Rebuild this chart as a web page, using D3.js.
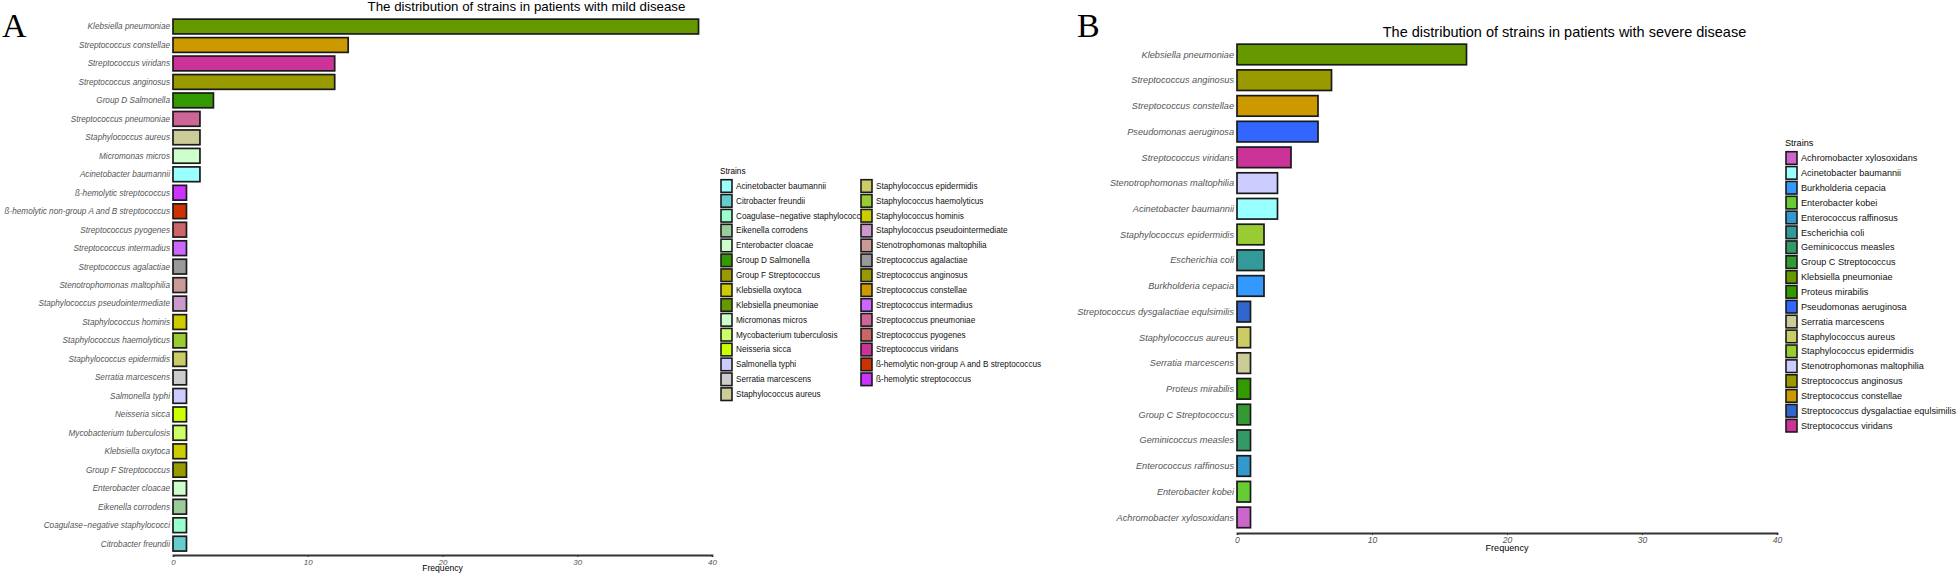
<!DOCTYPE html>
<html><head><meta charset="utf-8">
<script src="https://cdn.jsdelivr.net/npm/d3@7"></script>
<style>
html,body{margin:0;padding:0;background:#fff;}
svg{display:block;font-family:"Liberation Sans",Arial,sans-serif;}
</style></head>
<body>
<svg id="chart" width="1960" height="575"></svg>
<script>
// ---------- Panel A: mild disease ----------
const mildStrains = ["Klebsiella pneumoniae","Streptococcus constellae","Streptococcus viridans","Streptococcus anginosus","Group D Salmonella","Streptococcus pneumoniae","Staphylococcus aureus","Micromonas micros","Acinetobacter baumannii","ß-hemolytic streptococcus","ß-hemolytic non-group A and B streptococcus","Streptococcus pyogenes","Streptococcus intermadius","Streptococcus agalactiae","Stenotrophomonas maltophilia","Staphylococcus pseudointermediate","Staphylococcus hominis","Staphylococcus haemolyticus","Staphylococcus epidermidis","Serratia marcescens","Salmonella typhi","Neisseria sicca","Mycobacterium tuberculosis","Klebsiella oxytoca","Group F Streptococcus","Enterobacter cloacae","Eikenella corrodens","Coagulase\u2212negative staphylococci","Citrobacter freundii"];
const mildCounts = [39,13,12,12,3,2,2,2,2,1,1,1,1,1,1,1,1,1,1,1,1,1,1,1,1,1,1,1,1];
const mildLegend = ["Acinetobacter baumannii","Citrobacter freundii","Coagulase\u2212negative staphylococci","Eikenella corrodens","Enterobacter cloacae","Group D Salmonella","Group F Streptococcus","Klebsiella oxytoca","Klebsiella pneumoniae","Micromonas micros","Mycobacterium tuberculosis","Neisseria sicca","Salmonella typhi","Serratia marcescens","Staphylococcus aureus","Staphylococcus epidermidis","Staphylococcus haemolyticus","Staphylococcus hominis","Staphylococcus pseudointermediate","Stenotrophomonas maltophilia","Streptococcus agalactiae","Streptococcus anginosus","Streptococcus constellae","Streptococcus intermadius","Streptococcus pneumoniae","Streptococcus pyogenes","Streptococcus viridans","ß-hemolytic non-group A and B streptococcus","ß-hemolytic streptococcus"];
const mildColors = ["#99FFFF","#66CCCC","#99FFCC","#99CC99","#CCFFCC","#339900","#999900","#CCCC00","#669900","#CCFFCC","#CCFF66","#CCFF00","#CCCCFF","#CCCCCC","#CCCC99","#CCCC66","#99CC33","#CCCC00","#CC99CC","#CC9999","#999999","#999900","#CC9900","#CC66FF","#CC6699","#CC6666","#CC3399","#CC3300","#CC33FF"];

// ---------- Panel B: severe disease ----------
const severeStrains = ["Klebsiella pneumoniae","Streptococcus anginosus","Streptococcus constellae","Pseudomonas aeruginosa","Streptococcus viridans","Stenotrophomonas maltophilia","Acinetobacter baumannii","Staphylococcus epidermidis","Escherichia coli","Burkholderia cepacia","Streptococcus dysgalactiae equlsimilis","Staphylococcus aureus","Serratia marcescens","Proteus mirabilis","Group C Streptococcus","Geminicoccus measles","Enterococcus raffinosus","Enterobacter kobei","Achromobacter xylosoxidans"];
const severeCounts = [17,7,6,6,4,3,3,2,2,2,1,1,1,1,1,1,1,1,1];
const severeLegend = ["Achromobacter xylosoxidans","Acinetobacter baumannii","Burkholderia cepacia","Enterobacter kobei","Enterococcus raffinosus","Escherichia coli","Geminicoccus measles","Group C Streptococcus","Klebsiella pneumoniae","Proteus mirabilis","Pseudomonas aeruginosa","Serratia marcescens","Staphylococcus aureus","Staphylococcus epidermidis","Stenotrophomonas maltophilia","Streptococcus anginosus","Streptococcus constellae","Streptococcus dysgalactiae equlsimilis","Streptococcus viridans"];
const severeColors = ["#CC66CC","#99FFFF","#3399FF","#66CC33","#3399CC","#339999","#339966","#339933","#669900","#339900","#3366FF","#CCCC99","#CCCC66","#99CC33","#CCCCFF","#999900","#CC9900","#3366CC","#CC3399"];

const xTicks = [0,10,20,30,40];
const xTitle = "Frequency";
const legendTitle = "Strains";

const svg = d3.select("#chart");

function panel(cfg){
  const g = svg.append("g");
  const x = d3.scaleLinear().domain([0,40]).range([cfg.x0, cfg.x1]);
  const y = d3.scaleBand().domain(cfg.strains).range([cfg.y0, cfg.y1]).paddingInner(0.2).paddingOuter(0.1);
  const color = d3.scaleOrdinal().domain(cfg.legend).range(cfg.colors);
  const data = cfg.strains.map((s,i)=>({s, v: cfg.counts[i]}));

  // letter
  g.append("text").attr("x", cfg.letterX).attr("y", cfg.letterY)
    .attr("font-family","'Liberation Serif','Times New Roman',serif")
    .attr("font-size", 34).attr("fill","#000").text(cfg.letter);
  // title
  g.append("text").attr("x", cfg.titleX).attr("y", cfg.titleY).attr("text-anchor","middle")
    .attr("font-size", cfg.titleSize).attr("fill","#000").text(cfg.title);

  // bars
  g.selectAll("rect.bar").data(data).join("rect").attr("class","bar")
    .attr("x", x(0)).attr("y", d=>y(d.s))
    .attr("width", d=>x(d.v)-x(0)).attr("height", y.bandwidth())
    .attr("fill", d=>color(d.s)).attr("stroke","#1a1a1a").attr("stroke-width",1.7);

  // y labels
  g.selectAll("text.ylab").data(data).join("text").attr("class","ylab")
    .attr("x", x(0)-3).attr("y", d=>y(d.s)+y.bandwidth()/2).attr("dy","0.35em")
    .attr("text-anchor","end").attr("font-style","italic").attr("font-size", cfg.labSize)
    .attr("fill","#555").text(d=>d.s);

  // x axis
  const ax = g.append("g").attr("transform",`translate(0,${cfg.axisY})`)
    .call(d3.axisBottom(x).tickValues(xTicks).tickSize(2).tickPadding(2));
  ax.select(".domain").attr("stroke","#333").attr("stroke-width",1.8);
  ax.selectAll(".tick line").attr("stroke","#333");
  ax.selectAll(".tick text").attr("font-family","'Liberation Sans',Arial,sans-serif")
    .attr("font-style","italic").attr("font-size", cfg.tickSize).attr("fill","#555");
  g.append("text").attr("x",(cfg.x0+cfg.x1)/2).attr("y", cfg.axisY + cfg.xTitleDy)
    .attr("text-anchor","middle").attr("font-size", cfg.xTitleSize).attr("fill","#000").text(xTitle);

  // legend
  const lg = g.append("g");
  lg.append("text").attr("x", cfg.legX).attr("y", cfg.legY).attr("font-size", cfg.legSize)
    .attr("fill","#000").text(legendTitle);
  const items = cfg.legend.map((s,i)=>({s, col: Math.floor(i/cfg.perCol), row: i%cfg.perCol}));
  const li = lg.selectAll("g.li").data(items).join("g").attr("class","li")
    .attr("transform", d=>`translate(${cfg.legX + d.col*cfg.colW},${cfg.legY + 12 + d.row*14.87})`);
  li.append("text").attr("x", 16).attr("y", 0).attr("dy","0.35em")
    .attr("font-size", cfg.legSize).attr("fill","#111").text(d=>d.s);
  li.append("rect").attr("x",1).attr("y",-6.3).attr("width",11).attr("height",12.6)
    .attr("fill", d=>color(d.s)).attr("stroke","#1a1a1a").attr("stroke-width",1.6);
}

panel({
  letter:"A", letterX:2, letterY:37,
  title:"The distribution of strains in patients with mild disease", titleX:526.5, titleY:11, titleSize:13.3,
  strains:mildStrains, counts:mildCounts, legend:mildLegend, colors:mildColors,
  x0:173, x1:712, y0:17.3, y1:552.9, axisY:555,
  labSize:8.2, tickSize:8, xTitleSize:8.6, xTitleDy:16,
  legX:720, legY:174, legSize:8.2, perCol:15, colW:140
});
panel({
  letter:"B", letterX:1077, letterY:37,
  title:"The distribution of strains in patients with severe disease", titleX:1564.5, titleY:36.5, titleSize:14.5,
  strains:severeStrains, counts:severeCounts, legend:severeLegend, colors:severeColors,
  x0:1237, x1:1777, y0:41.6, y1:530.3, axisY:533,
  labSize:9.2, tickSize:8.6, xTitleSize:9.1, xTitleDy:18,
  legX:1785, legY:146, legSize:9.1, perCol:30, colW:0
});
</script>
</body></html>
